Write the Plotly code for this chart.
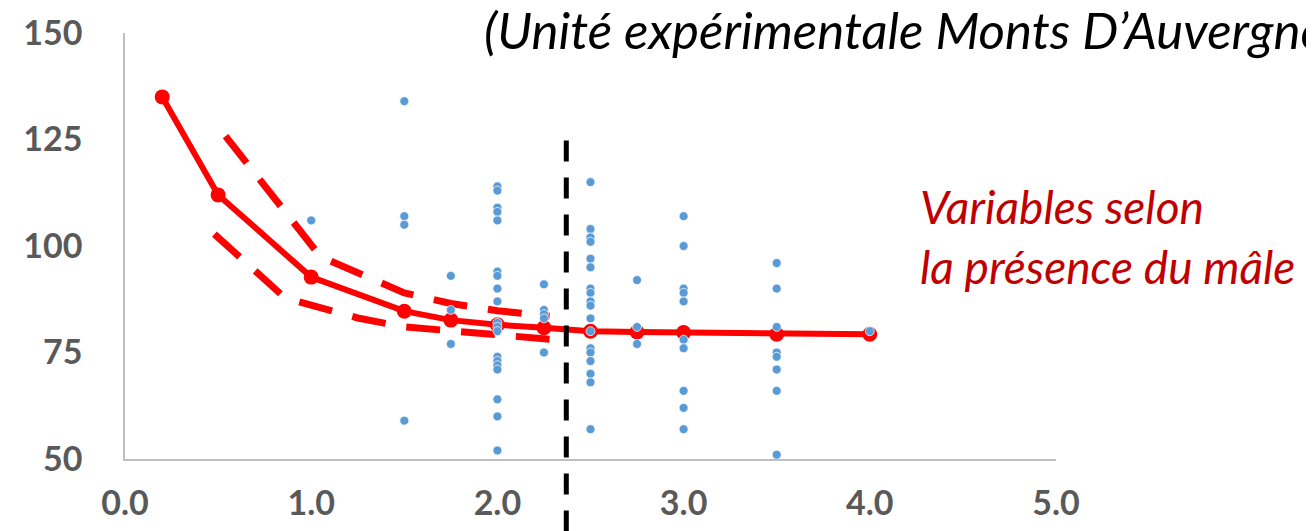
import plotly.graph_objects as go

# ---- Data ----
mean_x = [0.2, 0.5, 1.0, 1.5, 1.75, 2.0, 2.25, 2.5, 2.75, 3.0, 3.5, 4.0]
mean_y = [135, 112, 92.7, 84.7, 82.6, 81.5, 80.8, 80.0, 79.8, 79.7, 79.3, 79.3]

upper_x = [0.54, 1.05, 1.5, 1.75, 2.0, 2.28]
upper_y = [125.8, 97.5, 89.0, 86.5, 84.8, 83.5]

lower_x = [0.48, 0.86, 1.25, 1.5, 1.75, 2.0, 2.28]
lower_y = [102.8, 87.8, 83.1, 81.0, 80.1, 79.1, 78.1]

obs_1_00 = [106]
obs_1_50 = [134, 107, 105, 59]
obs_1_75 = [93, 85, 77]
obs_2_00 = [114, 113, 109, 108, 106, 94, 93, 90, 87, 82, 81, 80, 74, 73, 72, 71, 64, 60, 52]
obs_2_25 = [91, 85, 84, 83, 75]
obs_2_50 = [115, 104, 102, 101, 97, 95, 90, 89, 87, 86, 83, 80, 76, 75, 73, 70, 68, 57]
obs_2_75 = [92, 81, 77]
obs_3_00 = [107, 100, 90, 89, 87, 78, 76, 66, 62, 57]
obs_3_50 = [96, 90, 81, 75, 74, 71, 66, 51]
obs_4_00 = [80]

obs_columns = [
    (1.0, obs_1_00), (1.5, obs_1_50), (1.75, obs_1_75), (2.0, obs_2_00),
    (2.25, obs_2_25), (2.5, obs_2_50), (2.75, obs_2_75), (3.0, obs_3_00),
    (3.5, obs_3_50), (4.0, obs_4_00),
]
obs_x = [x for x, vals in obs_columns for _ in vals]
obs_y = [v for _, vals in obs_columns for v in vals]

male_x = 2.37
x_ticks = [0, 1, 2, 3, 4, 5]
y_ticks = [50, 75, 100, 125, 150]

title_text = "(Unité expérimentale Monts D’Auvergne)"
note_text = "Variables selon<br>la présence du mâle"

RED = "#FF0000"

fig = go.Figure()
fig.add_trace(go.Scatter(x=upper_x, y=upper_y, mode="lines",
                         line=dict(color=RED, width=7, dash="34px,21px"),
                         hoverinfo="skip", showlegend=False))
fig.add_trace(go.Scatter(x=lower_x, y=lower_y, mode="lines",
                         line=dict(color=RED, width=7, dash="34px,21px"),
                         hoverinfo="skip", showlegend=False))
fig.add_trace(go.Scatter(x=mean_x, y=mean_y, mode="lines+markers",
                         line=dict(color=RED, width=6),
                         marker=dict(color=RED, size=15),
                         showlegend=False))
fig.add_trace(go.Scatter(x=obs_x, y=obs_y, mode="markers",
                         marker=dict(color="#5B9BD5", size=9,
                                     line=dict(color="rgba(255,255,255,0.7)", width=1)),
                         showlegend=False))

fig.add_shape(type="line", xref="x", yref="paper",
              x0=male_x, x1=male_x, y0=-0.17, y1=0.76,
              line=dict(color="black", width=5, dash="21px,16px"),
              layer="above")

fig.add_annotation(xref="paper", yref="paper", x=0.3835, y=1.085,
                   xanchor="left", yanchor="top", showarrow=False,
                   text=title_text,
                   font=dict(family="Lato", size=51, color="black", style="italic"))
fig.add_annotation(xref="paper", yref="paper", x=0.852, y=0.522,
                   xanchor="left", yanchor="middle", showarrow=False, align="left",
                   text=note_text,
                   font=dict(family="Lato", size=46, color="#C00000", style="italic"))

fig.update_xaxes(range=[0, 5], tickvals=x_ticks, tickformat=".1f",
                 showline=True, linecolor="#BFBFBF", linewidth=1.5,
                 showgrid=False, zeroline=False, ticks="",
                 ticklabelstandoff=13, automargin=False,
                 tickfont=dict(family="Lato", size=34, color="#595959", weight="bold"))
fig.update_yaxes(range=[50, 150], tickvals=y_ticks,
                 showline=True, linecolor="#BFBFBF", linewidth=1.5,
                 showgrid=False, zeroline=False, ticks="",
                 ticklabelstandoff=34, automargin=False,
                 tickfont=dict(family="Lato", size=34, color="#595959", weight="bold"))

# the page body has an 8px default margin: compensate so the plot sits where the reference has it
fig.update_layout(width=1306, height=523,
                  margin=dict(l=117, r=258, t=25, b=72, autoexpand=False),
                  paper_bgcolor="white", plot_bgcolor="white")

fig.write_html("out.html")
